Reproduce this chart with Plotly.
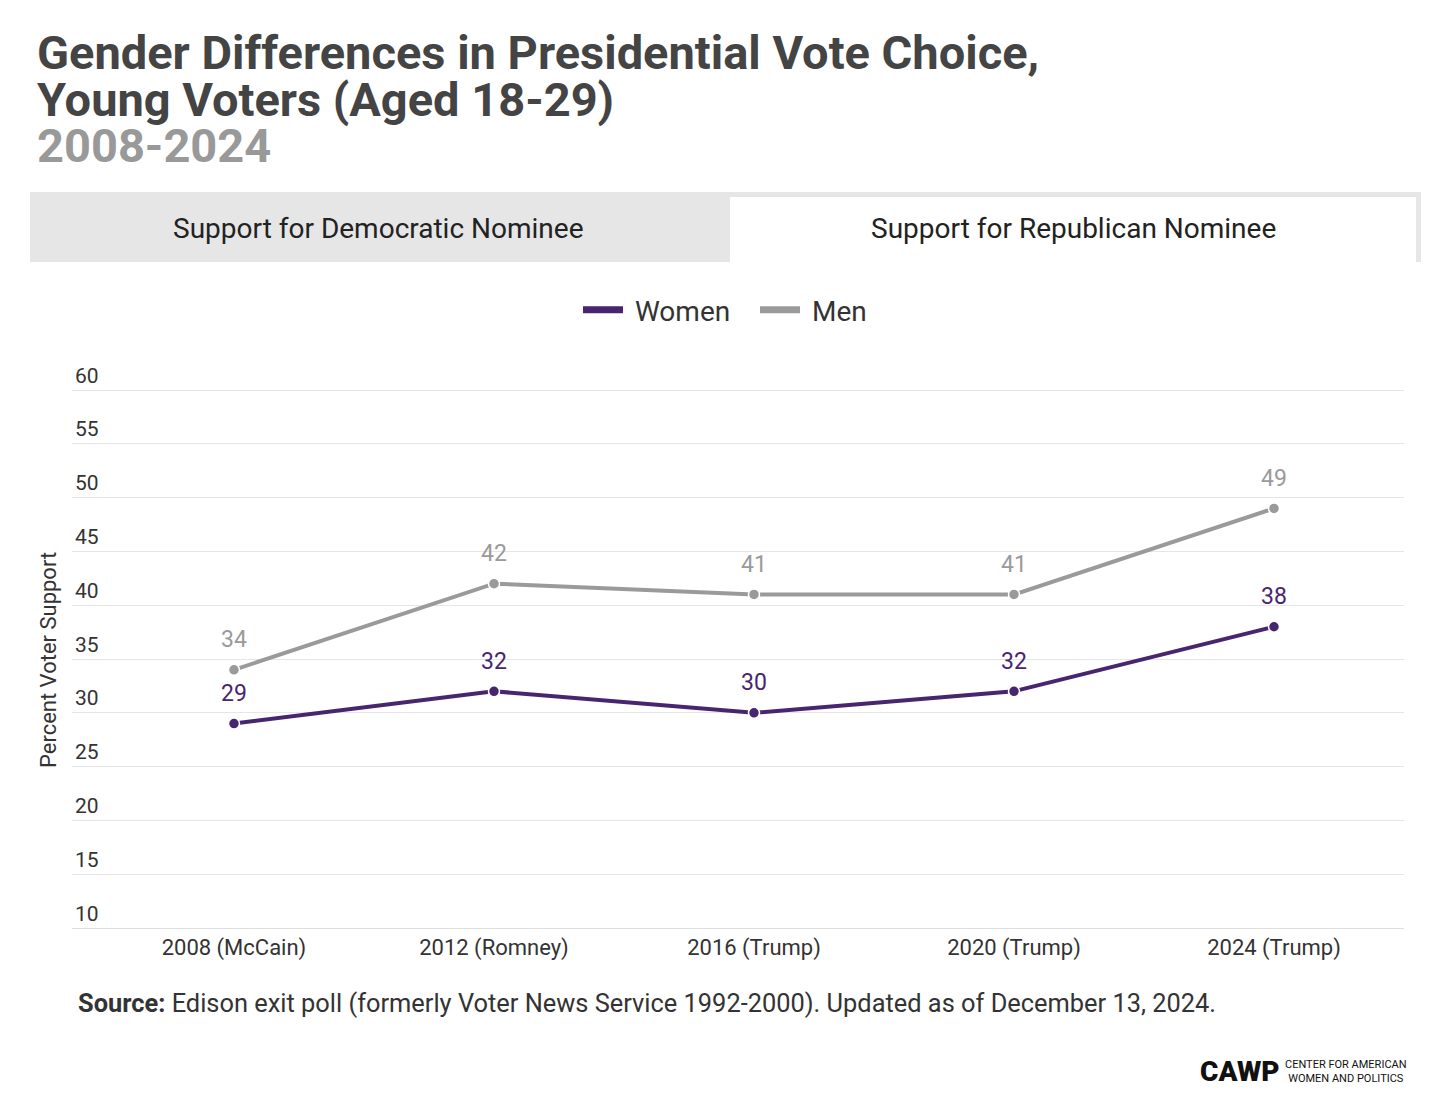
import plotly.graph_objects as go

categories = ["2008 (McCain)", "2012 (Romney)", "2016 (Trump)", "2020 (Trump)", "2024 (Trump)"]
women = [29, 32, 30, 32, 38]
men = [34, 42, 41, 41, 49]
y_ticks = [10, 15, 20, 25, 30, 35, 40, 45, 50, 55, 60]

PURPLE = "#48256f"
GRAY = "#9a9a9a"
FONT = "Roboto"

# page has an 8px body margin; work in screen coordinates and shift
OFF = 8
W, H = 1440, 1100
PX = 10.76  # pixels per unit
Y_TOP = 64
L = 72 - OFF
R = W - (1404 - OFF)
B = H - (928 - OFF)
T = (390 - OFF) - (Y_TOP - 60) * PX
PW, PH = W - L - R, H - T - B

xs = list(range(len(categories)))

fig = go.Figure()
for name, vals, col in [("Women", women, PURPLE), ("Men", men, GRAY)]:
    fig.add_trace(go.Scatter(
        x=xs, y=vals, name=name, mode="lines+markers", showlegend=False,
        line=dict(color=col, width=4), marker=dict(size=11, color=col, line=dict(color="white", width=1.5)),
        cliponaxis=False, hoverinfo="skip"))
    fig.add_trace(go.Scatter(
        x=xs, y=vals, mode="markers+text", showlegend=False,
        marker=dict(size=25, color="rgba(0,0,0,0)"),
        text=[str(v) for v in vals], textposition="top center",
        textfont=dict(family=FONT, size=23, color=col), cliponaxis=False, hoverinfo="skip"))
for name, col in [("Women", PURPLE), ("Men", GRAY)]:
    fig.add_trace(go.Scatter(x=[None], y=[None], name="\u00a0" + name, mode="lines",
                             line=dict(color=col, width=7), showlegend=True))

def px_x(sx):
    return (sx - OFF - L) / PW

def px_y(sy):
    return 1 - (sy - OFF - T) / PH

fig.update_layout(
    width=W, height=H, margin=dict(l=L, r=R, t=T, b=B),
    paper_bgcolor="white", plot_bgcolor="white",
    font=dict(family=FONT, color="#333333"),
    showlegend=True,
    legend=dict(orientation="h", x=px_x(578), xanchor="left", y=1 - (310 - OFF) / H, yanchor="middle",
                yref="container", font=dict(size=28, color="#333333"),
                itemwidth=40, entrywidth=122, traceorder="normal"),
    xaxis=dict(range=[-0.623, 4.5], tickvals=xs, ticktext=categories,
               showgrid=False, zeroline=False, showline=True, linecolor="#dddddd", linewidth=1,
               ticks="", tickfont=dict(size=22, color="#333333"), fixedrange=True),
    yaxis=dict(range=[10, Y_TOP], tickvals=y_ticks, showgrid=True, gridcolor="#e6e6e6", gridwidth=1,
               zeroline=False, showline=False, ticklabelposition="inside top",
               tickfont=dict(size=21, color="#333333"), ticks=""),
)

shapes = [
    dict(type="rect", xref="paper", yref="paper", x0=px_x(30), x1=px_x(1421),
         y0=px_y(197), y1=px_y(192), fillcolor="#e6e6e6", line=dict(width=0), layer="below"),
    dict(type="rect", xref="paper", yref="paper", x0=px_x(30), x1=px_x(730),
         y0=px_y(262), y1=px_y(193), fillcolor="#e6e6e6", line=dict(width=0), layer="below"),
    dict(type="rect", xref="paper", yref="paper", x0=px_x(1416), x1=px_x(1421),
         y0=px_y(262), y1=px_y(193), fillcolor="#e6e6e6", line=dict(width=0), layer="below"),
]
fig.update_layout(shapes=shapes)

def cann(text, sx, sy, size, color, xanchor="left", weight=None, family=FONT, angle=0):
    f = dict(family=family, size=size, color=color)
    if weight:
        f["weight"] = weight
    fig.add_annotation(text=text, x=px_x(sx), y=px_y(sy), textangle=angle,
                       xref="paper", yref="paper", xanchor=xanchor, yanchor="middle",
                       showarrow=False, font=f)

cann("<b>Gender Differences in Presidential Vote Choice,</b>", 35, 52, 47, "#444444")
cann("<b>Young Voters (Aged 18-29)</b>", 35, 99, 47, "#444444")
cann("<b>2008-2024</b>", 35, 145, 47, "#999999")
cann("Support for Democratic Nominee", 378, 228, 28, "#222222", xanchor="center")
cann("Support for Republican Nominee", 1073, 228, 28, "#222222", xanchor="center")
cann("Percent Voter Support", 48, 660, 22, "#333333", xanchor="center", angle=-90)
cann("<b>Source:</b> Edison exit poll (formerly Voter News Service 1992-2000). Updated as of December 13, 2024.",
     76, 1003, 25.4, "#333333")
cann("CAWP", 1198, 1072, 28, "#111111", weight=900)
cann("CENTER FOR AMERICAN<br>WOMEN AND POLITICS", 1283, 1072, 11, "#111111")

fig.write_html("out.html")
